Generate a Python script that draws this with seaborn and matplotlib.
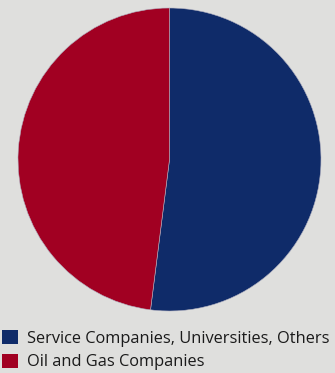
import matplotlib
matplotlib.use("Agg")
import matplotlib.pyplot as plt
import seaborn as sns
from matplotlib.patches import Patch

labels = ["Service Companies, Universities, Others", "Oil and Gas Companies"]
values = [52, 48]
colors = ["#0f2b69", "#a10022"]
bg = "#dfdfdd"

sns.set_theme(style="white")
plt.rcParams["font.family"] = ["Open Sans", "DejaVu Sans"]

W, H = 335, 373
fig = plt.figure(figsize=(W / 100, H / 100), dpi=100, facecolor=bg)
ax = fig.add_axes([18 / W, (H - 311) / H, 303 / W, 303 / H])
ax.set_facecolor(bg)
ax.pie(values, colors=colors, startangle=90, counterclock=False,
       wedgeprops=dict(linewidth=0.4, edgecolor="#b0b0c0"))
ax.set_xlim(-1, 1)
ax.set_ylim(-1, 1)
ax.set_aspect("equal")
ax.axis("off")

handles = [Patch(facecolor=c, edgecolor="none") for c in colors]
fig.legend(handles, labels, loc="upper left", bbox_to_anchor=(-0.003, 1 - 327 / H),
           frameon=False, fontsize=11.8, handlelength=0.95, handleheight=0.95,
           handletextpad=0.55, labelspacing=0.4, borderpad=0.2, borderaxespad=0,
           labelcolor="#1a1a1a")

fig.savefig("out.png", dpi=100, facecolor=bg)
